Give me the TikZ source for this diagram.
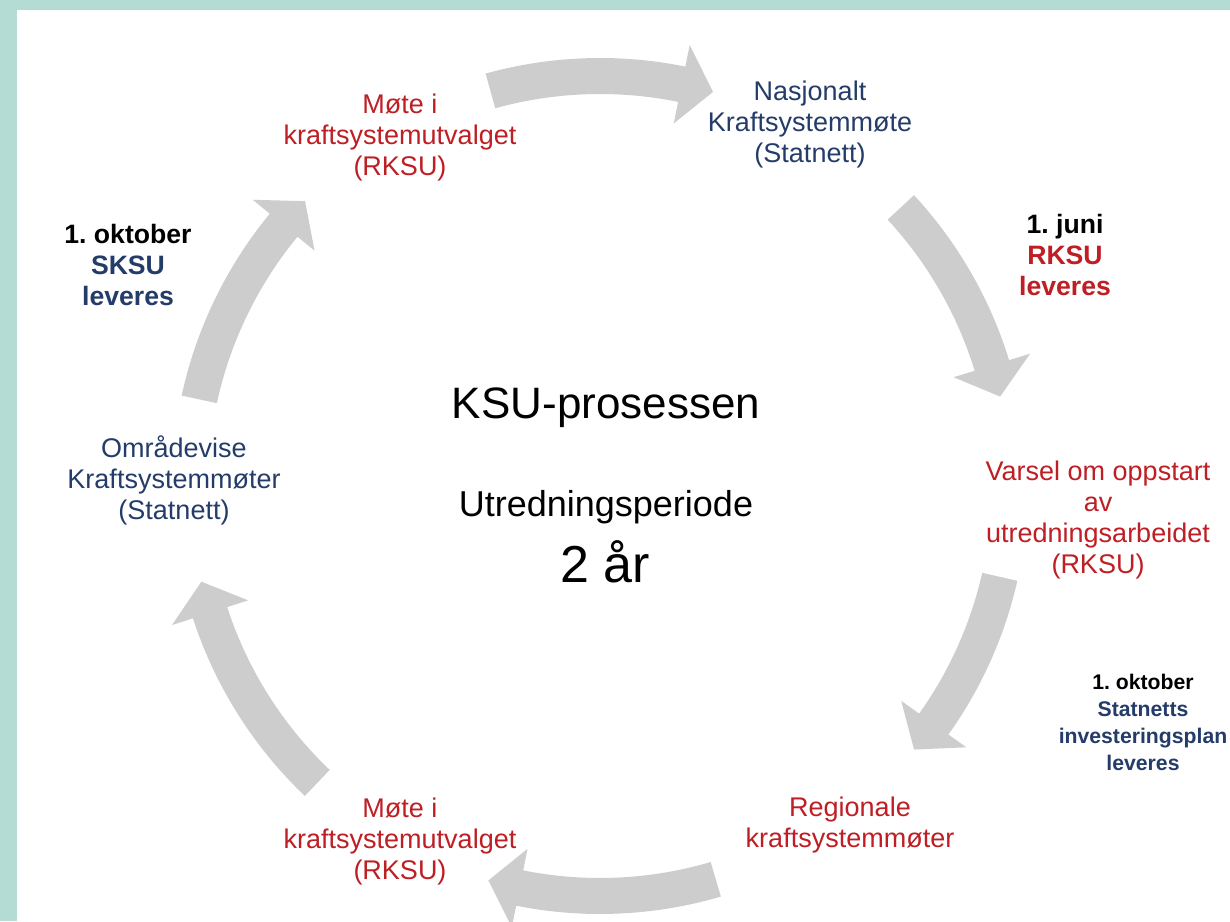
\documentclass[tikz,border=0pt]{standalone}
\usepackage{fontspec}
\setmainfont{Liberation Sans}

\definecolor{ksured}{RGB}{190,30,36}
\definecolor{ksublue}{RGB}{36,60,105}
\definecolor{arrowgray}{RGB}{205,205,205}
\definecolor{framegreen}{RGB}{181,220,212}

\tikzset{
	stage/.style = {align=center, font=\fontsize{13.5}{15.5}\selectfont},
	redstage/.style = {stage, text=ksured},
	bluestage/.style = {stage, text=ksublue},
	deadline/.style = {align=center, font=\bfseries\fontsize{13.3}{15.5}\selectfont},
	smalldeadline/.style = {align=center, font=\bfseries\fontsize{10.6}{13.5}\selectfont}
}

\begin{document}
\frenchspacing
\begin{tikzpicture}[x = 0.5pt, y = 0.5pt]

	% Definition
	
	\def\R{410}		% Radius of the cycle
	\def\W{18}		% Half width of arrow body
	\def\H{40}		% Half width of arrow head
	
	% Frame
	
	\fill [framegreen] (-600, -435) rectangle (630, 486);
	\fill [white] (-583, -435) rectangle (630, 476);
	\useasboundingbox (-600, -435) rectangle (630, 486);
	
	% Cycle arrows (start angle / tip angle)
	
	\foreach \S/\T in {105.5/74, 42.8/12.6, -12.8/-40, -73.6/-105.8, -133.6/-166.5, 167.8/136}
		\fill [arrowgray] ({\S} : {\R + \W}) arc [start angle = \S, end angle = \T + 4.5, radius = \R + \W]
			-- ({\T + 4.5} : {\R + \H}) -- ({\T} : {\R}) -- ({\T + 4.5} : {\R - \H})
			-- ({\T + 4.5} : {\R - \W}) arc [start angle = \T + 4.5, end angle = \S, radius = \R - \W] -- cycle;
	
	% Stages
	
	\node [redstage] (meetnorth) at (-200, 348) {Møte i\\kraftsystemutvalget\\(RKSU)};
	\node [bluestage] (national) at (210, 361) {Nasjonalt\\Kraftsystemmøte\\(Statnett)};
	\node [redstage] (notice) at (498, -34) {Varsel om oppstart\\av\\utredningsarbeidet\\(RKSU)};
	\node [redstage] (regional) at (250, -339) {Regionale\\kraftsystemmøter};
	\node [redstage] (meetsouth) at (-200, -356) {Møte i\\kraftsystemutvalget\\(RKSU)};
	\node [bluestage] (areas) at (-426, 6) {Områdevise\\Kraftsystemmøter\\(Statnett)};
	
	% Deadlines
	
	\node [deadline] (june) at (465, 231) {1. juni\\\textcolor{ksured}{RKSU}\\\textcolor{ksured}{leveres}};
	\node [smalldeadline] (octobereast) at (543, -236) {1. oktober\\\textcolor{ksublue}{Statnetts}\\\textcolor{ksublue}{investeringsplan}\\\textcolor{ksublue}{leveres}};
	\node [deadline] (octoberwest) at (-472, 221) {1. oktober\\\textcolor{ksublue}{SKSU}\\\textcolor{ksublue}{leveres}};
	
	% Centre
	
	\node [font = \fontsize{22}{26}\selectfont] (title) at (6, 78) {KSU-prosessen};
	\node [font = \fontsize{18}{21}\selectfont] (period) at (6, -21) {Utredningsperiode};
	\node [font = \fontsize{26}{30}\selectfont] (years) at (5, -76) {2 år};

\end{tikzpicture}
\end{document}
